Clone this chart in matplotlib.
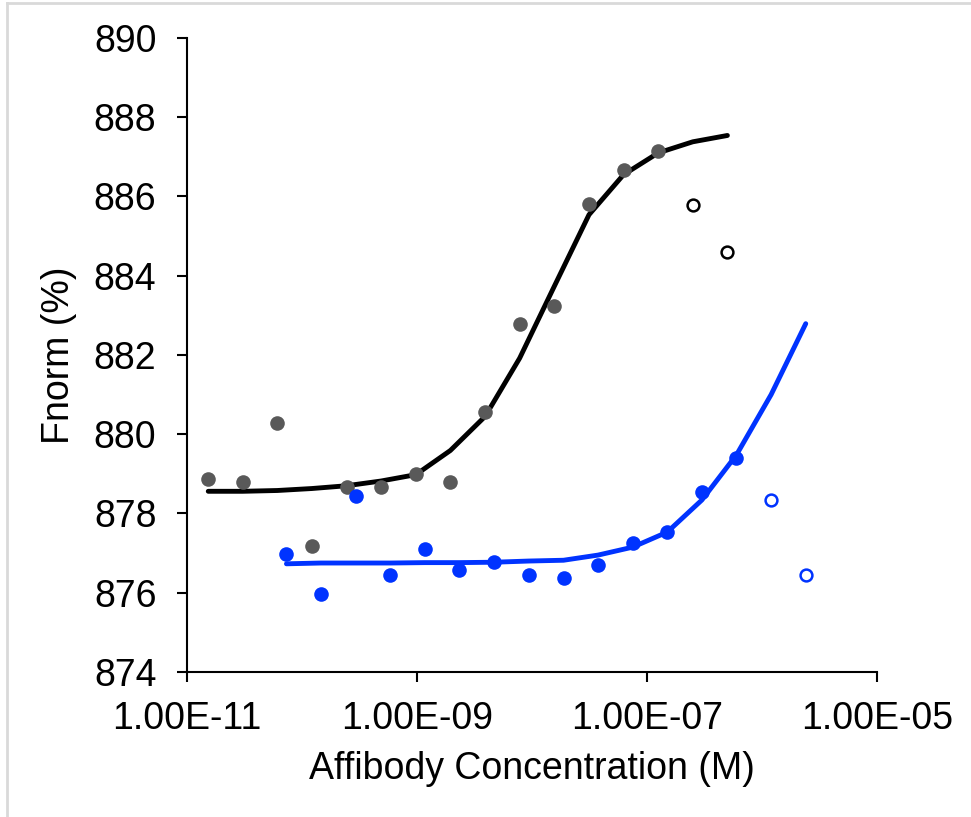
import matplotlib
matplotlib.use("Agg")
import matplotlib.pyplot as plt
from matplotlib.lines import Line2D

plt.rcParams['font.family'] = ['Liberation Sans', 'DejaVu Sans']

# black series (2-fold dilution)
conc_black = [1.53e-11, 3.05e-11, 6.10e-11, 1.22e-10, 2.44e-10, 4.88e-10, 9.77e-10, 1.95e-9,
              3.91e-9, 7.81e-9, 1.56e-8, 3.13e-8, 6.25e-8, 1.25e-7, 2.5e-7, 5.0e-7]
fnorm_black = [878.87, 878.80, 880.28, 877.18, 878.66, 878.66, 879.00, 878.80,
               880.55, 882.77, 883.24, 885.80, 886.68, 887.15, 885.79, 884.59]
fit_black = [878.56, 878.56, 878.58, 878.63, 878.70, 878.82, 878.98, 879.59,
             880.45, 881.92, 883.73, 885.54, 886.55, 887.10, 887.38, 887.54]
excluded_black = [False] * 14 + [True, True]

# blue series
conc_blue = [7.32e-11, 1.46e-10, 2.93e-10, 5.86e-10, 1.17e-9, 2.34e-9, 4.69e-9, 9.38e-9,
             1.88e-8, 3.75e-8, 7.5e-8, 1.5e-7, 3.0e-7, 6.0e-7, 1.2e-6, 2.4e-6]
fnorm_blue = [876.98, 875.96, 878.45, 876.44, 877.11, 876.57, 876.77, 876.44,
              876.37, 876.71, 877.25, 877.53, 878.53, 879.40, 878.33, 876.44]
fit_blue = [876.73, 876.75, 876.75, 876.75, 876.76, 876.76, 876.77, 876.80,
            876.82, 876.95, 877.15, 877.53, 878.34, 879.48, 881.00, 882.79]
excluded_blue = [False] * 14 + [True, True]

gray = '#595959'
blue = '#0033ff'

fig = plt.figure(figsize=(9.71, 8.17), dpi=100)
ax = fig.add_axes([0.1926, 0.1775, 0.7106, 0.776])

ax.plot(conc_black, fit_black, color='black', lw=3.5, solid_capstyle='round', zorder=2)
ax.plot(conc_blue, fit_blue, color=blue, lw=3.5, solid_capstyle='round', zorder=2)

for x, y, ex in zip(conc_black, fnorm_black, excluded_black):
    if ex:
        ax.plot(x, y, 'o', mfc='white', mec='black', ms=8.5, mew=1.8, zorder=3)
    else:
        ax.plot(x, y, 'o', color=gray, ms=10.5, mew=0, zorder=3)
for x, y, ex in zip(conc_blue, fnorm_blue, excluded_blue):
    if ex:
        ax.plot(x, y, 'o', mfc='white', mec=blue, ms=8.5, mew=1.8, zorder=3)
    else:
        ax.plot(x, y, 'o', color=blue, ms=10.5, mew=0, zorder=3)

ax.set_xscale('log')
ax.set_xlim(1e-11, 1e-5)
ax.set_ylim(874, 890)
ax.set_xticks([1e-11, 1e-9, 1e-7, 1e-5])
ax.set_xticklabels(['1.00E-11', '1.00E-09', '1.00E-07', '1.00E-05'])
ax.minorticks_off()
ax.set_yticks(range(874, 891, 2))

for s in ['top', 'right']:
    ax.spines[s].set_visible(False)
for s in ['left', 'bottom']:
    ax.spines[s].set_linewidth(1.5)
ax.tick_params(axis='both', direction='out', length=7, width=1.5, labelsize=27)
ax.tick_params(axis='y', pad=15)
ax.tick_params(axis='x', pad=14)

ax.set_xlabel('Affibody Concentration (M)', fontsize=27, labelpad=10)
ax.set_ylabel('Fnorm (%)', fontsize=27, labelpad=12)

# light frame lines of the original picture
fig.add_artist(Line2D([0.0072, 1.0], [0.9963, 0.9963], color='#d9d9d9', lw=2))
fig.add_artist(Line2D([0.0072, 0.0072], [0.0, 0.9963], color='#d9d9d9', lw=2))

plt.savefig('out.png', dpi=100)
